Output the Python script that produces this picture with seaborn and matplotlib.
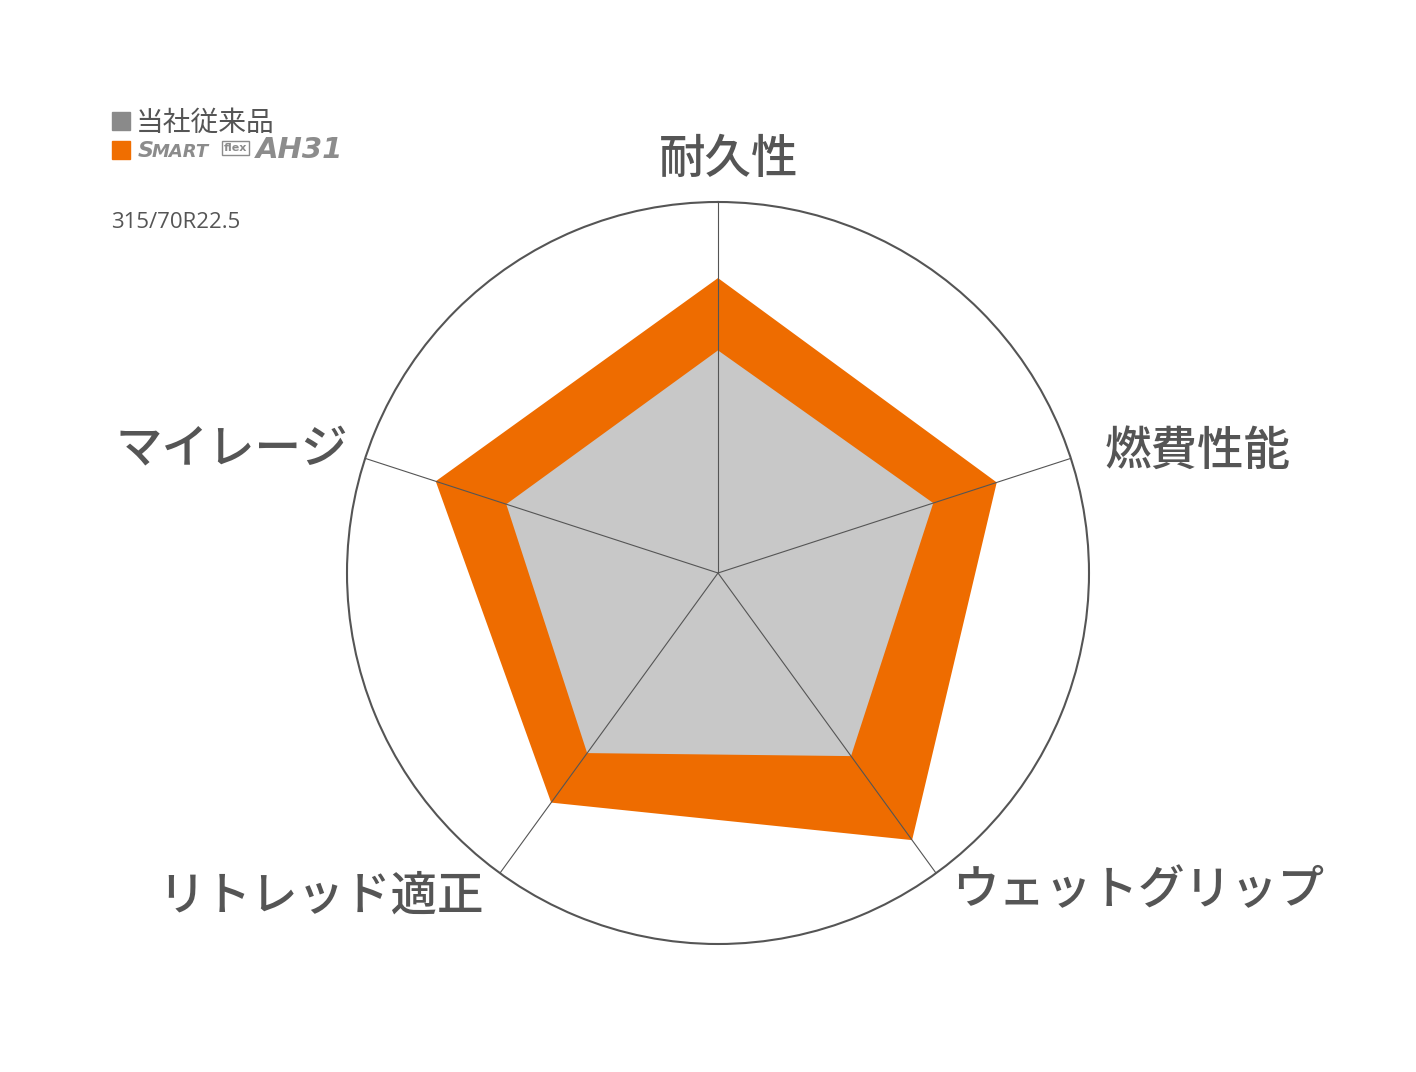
import numpy as np
import matplotlib.pyplot as plt
import seaborn as sns

# chart values (0-100 scale, outer circle = 100)
categories = ['耐久性', '燃費性能', 'ウェットグリップ', 'リトレッド適正', 'マイレージ']
conventional = [60, 61, 61, 60, 60]
ah31 = [79.5, 79, 89, 76.5, 80]
legend_labels = ['当社従来品', 'SMART flex AH31']
size_label = '315/70R22.5'

sns.set_theme(style='white')
plt.rcParams['font.family'] = ['Noto Sans CJK JP', 'DejaVu Sans']

W, H = 1416, 1072
fig = plt.figure(figsize=(W / 100, H / 100), dpi=100)
fig.patch.set_facecolor('white')


def px(x, y):
    return x / W, 1 - y / H


cx, cy, rad = 718, 573, 371
ax = fig.add_axes([(cx - rad) / W, (H - cy - rad) / H, 2 * rad / W, 2 * rad / H], projection='polar')
ax.set_theta_offset(np.pi / 2)
ax.set_theta_direction(-1)
ax.set_ylim(0, 100)

n = len(categories)
angles = np.linspace(0, 2 * np.pi, n, endpoint=False)
ang_closed = np.append(angles, angles[0])

orange = '#ee6c00'
grey_fill = '#c8c8c8'
line_col = '#555555'

ax.fill(ang_closed, np.append(ah31, ah31[0]), color=orange, lw=0, zorder=2)
ax.fill(ang_closed, np.append(conventional, conventional[0]), color=grey_fill, lw=0, zorder=3)

for a in angles:
    ax.plot([a, a], [0, 100], color=line_col, lw=0.8, zorder=4)

ax.grid(False)
ax.set_xticks([])
ax.set_yticks([])
ax.spines['polar'].set_color(line_col)
ax.spines['polar'].set_linewidth(1.5)
ax.set_facecolor('white')

# category labels
lab_kw = dict(fontsize=33.5, color='#555555', va='center', fontweight='medium')
ax.text(np.deg2rad(1.5), 111.5, categories[0], ha='center', **lab_kw)
ax.text(np.deg2rad(72.6), 109.3, categories[1], ha='left', **lab_kw)
ax.text(np.deg2rad(143.6), 106.3, categories[2], ha='left', **lab_kw)
ax.text(np.deg2rad(216.0), 107.5, categories[3], ha='right', **lab_kw)
ax.text(np.deg2rad(288.6), 105.2, categories[4], ha='right', **lab_kw)

# legend
fig.patches.append(plt.Rectangle(px(112, 130), 18 / W, 18 / H, transform=fig.transFigure,
                                 color='#8a8a8a', figure=fig))
fig.patches.append(plt.Rectangle(px(112, 159), 18 / W, 18 / H, transform=fig.transFigure,
                                 color='#f06e00', figure=fig))
fig.text(*px(136, 123), legend_labels[0], fontsize=20, color='#555555', va='center', ha='left')

logo_col = '#8c8c8c'
fig.text(*px(138, 151), 'S', fontsize=16, color=logo_col, va='center', ha='left',
         fontweight='bold', style='italic', family='DejaVu Sans')
fig.text(*px(152, 152), 'MART', fontsize=13, color=logo_col, va='center', ha='left',
         fontweight='bold', style='italic', family='DejaVu Sans')
fig.text(*px(224, 148), 'flex', fontsize=8, color=logo_col, va='center', ha='left',
         fontweight='bold', family='DejaVu Sans',
         bbox=dict(boxstyle='square,pad=0.15', fc='white', ec=logo_col, lw=1))
fig.text(*px(256, 150), 'AH31', fontsize=21, color=logo_col, va='center', ha='left',
         fontweight='bold', style='italic', family='DejaVu Sans')

fig.text(*px(111, 222), size_label, fontsize=16, color='#555555', va='center', ha='left',
         family='Open Sans')

fig.savefig('out.png', dpi=100, facecolor='white')
